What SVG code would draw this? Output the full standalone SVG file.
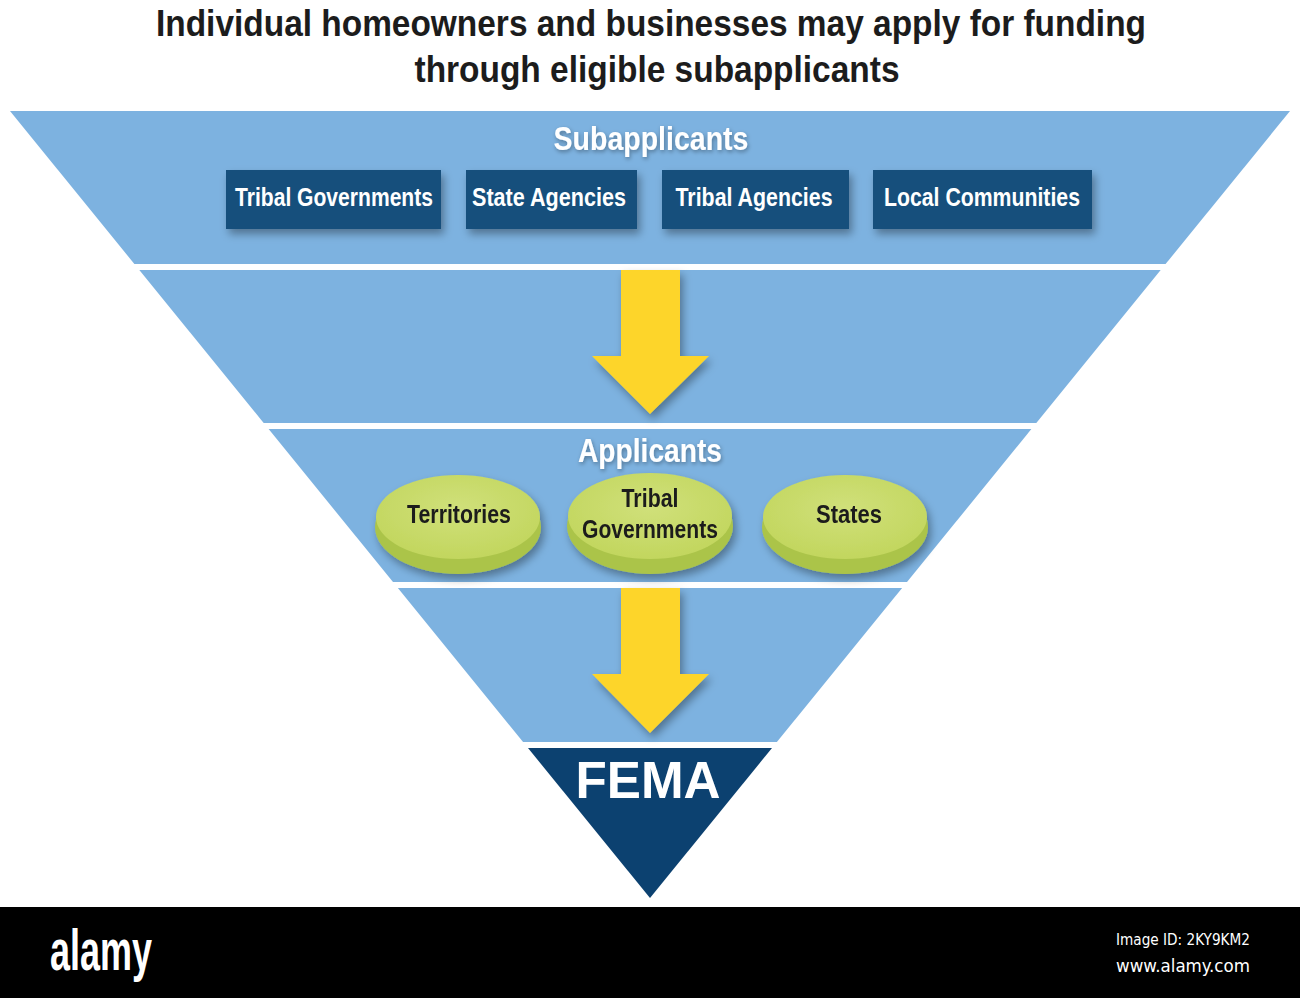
<svg xmlns="http://www.w3.org/2000/svg" width="1300" height="998" viewBox="0 0 1300 998">
<defs>
<style>
.title{font-family:"Liberation Sans Narrow","Liberation Sans",Arial,sans-serif;font-weight:bold;font-size:37px;fill:#1c1c1c}
.hdr{font-family:"Liberation Sans Narrow","Liberation Sans",Arial,sans-serif;font-weight:bold;font-size:33px;fill:#ffffff}
.box{fill:#124f7c}
.boxt{font-family:"Liberation Sans Narrow","Liberation Sans",Arial,sans-serif;font-weight:bold;font-size:26px;fill:#ffffff}
.band{fill:#7db2e0}
.arrow{fill:#fdd52a}
.dt{font-family:"Liberation Sans Narrow","Liberation Sans",Arial,sans-serif;font-weight:bold;font-size:25px;fill:#1a1a1a}
.rim{fill:#abc44a}
.top{fill:url(#discg)}
</style>
<filter id="sh" x="-20%" y="-20%" width="150%" height="160%">
<feDropShadow dx="3" dy="5" stdDeviation="4" flood-color="#000" flood-opacity="0.35"/>
</filter>
<filter id="tsh" x="-10%" y="-30%" width="120%" height="160%">
<feDropShadow dx="1" dy="2" stdDeviation="2" flood-color="#000" flood-opacity="0.35"/>
</filter>
<radialGradient id="discg" cx="0.5" cy="0.4" r="0.6">
<stop offset="0" stop-color="#d0e07a"/>
<stop offset="1" stop-color="#c2d65e"/>
</radialGradient>
</defs>
<rect x="0" y="0" width="1300" height="998" fill="#ffffff"/>

<g id="title">
<text class="title" x="651" y="36" text-anchor="middle" textLength="990" lengthAdjust="spacingAndGlyphs">Individual homeowners and businesses may apply for funding</text>
<text class="title" x="657" y="82" text-anchor="middle" textLength="485" lengthAdjust="spacingAndGlyphs">through eligible subapplicants</text>
</g>

<g id="funnel">
<polygon class="band" points="10,111 1290,111 1165.6,264 134.4,264"/>
<polygon class="band" points="139.3,270 1160.7,270 1036.3,423 263.7,423"/>
<polygon class="band" points="268.6,429 1031.4,429 907,582 393,582"/>
<polygon class="band" points="397.9,588 902.1,588 776.9,742 523.1,742"/>
</g>

<g id="subapplicants">
<text class="hdr" x="651" y="150" text-anchor="middle" textLength="195" lengthAdjust="spacingAndGlyphs" filter="url(#tsh)">Subapplicants</text>
</g>
<g id="n-tribal-gov">
<rect class="box" x="226" y="170" width="215" height="59" filter="url(#sh)"/>
<text class="boxt" x="334" y="206" text-anchor="middle" textLength="198" lengthAdjust="spacingAndGlyphs">Tribal Governments</text>
</g>
<g id="n-state-agencies">
<rect class="box" x="466" y="170" width="171" height="59" filter="url(#sh)"/>
<text class="boxt" x="549" y="206" text-anchor="middle" textLength="154" lengthAdjust="spacingAndGlyphs">State Agencies</text>
</g>
<g id="n-tribal-agencies">
<rect class="box" x="662" y="170" width="187" height="59" filter="url(#sh)"/>
<text class="boxt" x="754" y="206" text-anchor="middle" textLength="157" lengthAdjust="spacingAndGlyphs">Tribal Agencies</text>
</g>
<g id="n-local-communities">
<rect class="box" x="873" y="170" width="219" height="59" filter="url(#sh)"/>
<text class="boxt" x="982" y="206" text-anchor="middle" textLength="196" lengthAdjust="spacingAndGlyphs">Local Communities</text>
</g>

<g id="connectors">
<polygon class="arrow" filter="url(#sh)" points="621,270 680,270 680,356 709,356 650,414 592,356 621,356"/>
<polygon class="arrow" filter="url(#sh)" points="621,588 680,588 680,674 709,674 650,733 592,674 621,674"/>
</g>

<g id="applicants">
<text class="hdr" x="650" y="462" text-anchor="middle" textLength="144" lengthAdjust="spacingAndGlyphs" filter="url(#tsh)">Applicants</text>
</g>
<g id="n-territories" filter="url(#sh)">
<ellipse class="rim" cx="458" cy="527" rx="83" ry="47"/>
<ellipse class="top" cx="458" cy="517" rx="82" ry="42"/>
<text class="dt" x="459" y="523" text-anchor="middle" textLength="104" lengthAdjust="spacingAndGlyphs">Territories</text>
</g>
<g id="n-tribal-governments" filter="url(#sh)">
<ellipse class="rim" cx="650" cy="526" rx="83" ry="48"/>
<ellipse class="top" cx="650" cy="516" rx="82" ry="43"/>
<text class="dt" x="650" y="507" text-anchor="middle" textLength="57" lengthAdjust="spacingAndGlyphs">Tribal</text>
<text class="dt" x="650" y="538" text-anchor="middle" textLength="136" lengthAdjust="spacingAndGlyphs">Governments</text>
</g>
<g id="n-states" filter="url(#sh)">
<ellipse class="rim" cx="845" cy="527" rx="83" ry="47"/>
<ellipse class="top" cx="845" cy="517" rx="82" ry="42"/>
<text class="dt" x="849" y="523" text-anchor="middle" textLength="66" lengthAdjust="spacingAndGlyphs">States</text>
</g>

<g id="n-fema">
<polygon points="528,748 772,748 650,898" fill="#0c4170"/>
<text x="648" y="798" text-anchor="middle" font-family="'Liberation Sans',Arial,sans-serif" font-weight="bold" font-size="51" fill="#ffffff" textLength="145" lengthAdjust="spacingAndGlyphs">FEMA</text>
</g>

<g id="footer">
<rect x="0" y="907" width="1300" height="91" fill="#000000"/>
<text x="101" y="970" text-anchor="middle" font-family="'Liberation Sans Narrow','Liberation Sans',Arial,sans-serif" font-weight="bold" font-size="58" fill="#ffffff" textLength="102" lengthAdjust="spacingAndGlyphs">alamy</text>
<text x="1183" y="945" text-anchor="middle" font-family="'DejaVu Sans Condensed','DejaVu Sans',sans-serif" font-size="15" fill="#ffffff" textLength="134" lengthAdjust="spacingAndGlyphs">Image ID: 2KY9KM2</text>
<text x="1183" y="972" text-anchor="middle" font-family="'DejaVu Sans Condensed','DejaVu Sans',sans-serif" font-size="18" fill="#ffffff" textLength="134" lengthAdjust="spacingAndGlyphs">www.alamy.com</text>
</g>
</svg>
